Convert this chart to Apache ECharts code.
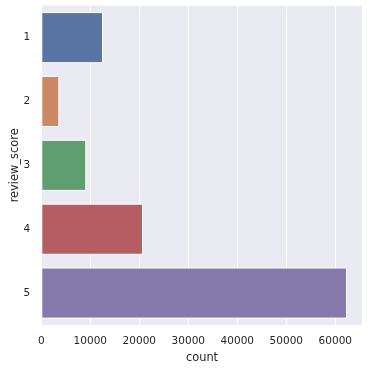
<!DOCTYPE html>
<html>
<head>
<meta charset="utf-8">
<script src="https://cdn.jsdelivr.net/npm/echarts@6/dist/echarts.min.js"></script>
<style>html,body{margin:0;padding:0;background:#fff;}#c{width:369px;height:369px;}</style>
</head>
<body>
<div id="c"></div>
<script>
const categories = ['1', '2', '3', '4', '5'];
const counts = [12590, 3680, 9180, 20750, 62400];
const barColors = ['#5975a4', '#cc8963', '#5f9e6e', '#b55d60', '#857aab'];
const xTicks = [0, 10000, 20000, 30000, 40000, 50000, 60000];

const chart = echarts.init(document.getElementById('c'), null, {renderer: 'canvas'});
const font = 'DejaVu Sans';
chart.setOption({
  animation: false,
  backgroundColor: '#ffffff',
  grid: {left: 41.3, right: 6.3, top: 5.7, bottom: 44, show: true, backgroundColor: '#eaeaf2', borderWidth: 0,
    containLabel: false, outerBoundsMode: 'none'},
  xAxis: {
    type: 'value', min: 0, max: 65590, interval: 10000,
    name: 'count', nameLocation: 'middle', nameGap: 28, nameMoveOverlap: false,
    nameTextStyle: {fontFamily: font, fontSize: 11.4, color: '#262626'},
    axisLine: {show: false}, axisTick: {show: false},
    axisLabel: {fontFamily: font, fontSize: 10.5, color: '#262626', margin: 11, showMaxLabel: false,
      formatter: v => xTicks.includes(v) ? String(v) : ''},
    splitLine: {show: true, lineStyle: {color: '#ffffff', width: 1}}
  },
  yAxis: {
    type: 'category', data: categories, inverse: true,
    name: 'review_score', nameLocation: 'middle', nameGap: 21, nameMoveOverlap: false,
    nameTextStyle: {fontFamily: font, fontSize: 11.4, color: '#262626'},
    axisLine: {show: false}, axisTick: {show: false},
    axisLabel: {fontFamily: font, fontSize: 10.5, color: '#262626', margin: 11},
    splitLine: {show: false}
  },
  series: [{
    type: 'bar', barCategoryGap: '20%',
    data: counts.map((v, i) => ({value: v, itemStyle: {color: barColors[i]}})),
    itemStyle: {borderColor: '#ffffff', borderWidth: 1}
  }]
});
</script>
</body>
</html>
